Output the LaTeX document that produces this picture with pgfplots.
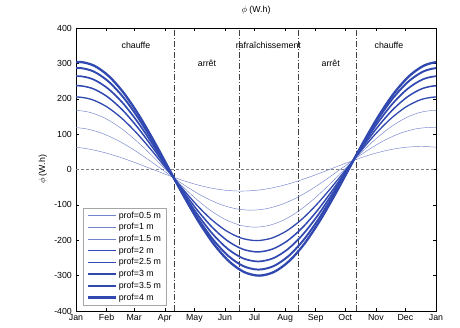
\documentclass[border=0pt]{standalone}
\usepackage{pgfplots}
\pgfplotsset{compat=1.18}
\usepackage{fontspec}
\setmainfont{Liberation Sans}
\definecolor{cblue}{RGB}{48,72,175}
\definecolor{lblue}{RGB}{115,130,205}
\newcommand{\fs}{\fontsize{8.8}{10.5}\selectfont}
\begin{document}
\fs
\begin{tikzpicture}
\path[use as bounding box] (-76pt,-17pt) rectangle (384pt,311pt);
\begin{axis}[
  at={(0pt,0pt)}, anchor=south west,
  scale only axis, width=360pt, height=283pt,
  xmin=0, xmax=365, ymin=-400, ymax=400,
  xtick={0,31,59,90,120,151,181,212,243,273,304,334,365},
  xticklabels={Jan,Feb,Mar,Apr,May,Jun,Jul,Aug,Sep,Oct,Nov,Dec,Jan},
  ytick={-400,-300,...,400},
  tick align=inside, tick pos=both,
  major tick length=3pt,
  tick style={black, line width=0.4pt},
  axis line style={black, line width=0.5pt},
  /pgf/number format/assume math mode=true,
  ticklabel style={font=\fs},
  yticklabel style={xshift=-1pt},
  title={$\phi$ (W.h)},
  title style={at={(0.5,1)}, anchor=south, yshift=5pt, font=\fs},
  ylabel={$\phi$ (W.h)},
  ylabel style={at={(axis description cs:-0.092,0.5)}, anchor=center, font=\fs},
  clip=true,
  legend style={at={(axis description cs:0.02,0.019)}, anchor=south west, draw=gray!70, line width=0.5pt, font=\fs, inner xsep=3pt, inner ysep=2pt, row sep=0pt, fill=white},
  legend cell align=left,
  legend image code/.code={\draw[#1] (0pt,0pt) -- (28pt,0pt);},
]
% reference lines
\addplot[forget plot, gray, line width=0.4pt, dash pattern=on 3pt off 2pt] coordinates {(0,0) (365,0)};
\addplot[forget plot, black!75, line width=0.4pt, dash pattern=on 6pt off 2pt on 1pt off 2pt] coordinates {(100,-400) (100,400)};
\addplot[forget plot, black!75, line width=0.4pt, dash pattern=on 6pt off 2pt on 1pt off 2pt] coordinates {(165,-400) (165,400)};
\addplot[forget plot, black!75, line width=0.4pt, dash pattern=on 6pt off 2pt on 1pt off 2pt] coordinates {(225,-400) (225,400)};
\addplot[forget plot, black!75, line width=0.4pt, dash pattern=on 6pt off 2pt on 1pt off 2pt] coordinates {(284,-400) (284,400)};
% 0.5 m
\addplot[lblue, line width=0.45pt, smooth] coordinates {
(-30.21,62.9) (-15,65) (0.21,62.9) (15.42,56.6) (30.63,46.5) (45.83,33.5) (61.04,18.3) (76.25,2) (91.46,-14.3) (106.67,-29.5) (121.88,-42.5) (137.08,-52.6) (152.29,-58.9) (167.5,-61) (182.71,-58.9) (197.92,-52.6) (213.13,-42.5) (228.33,-29.5) (243.54,-14.3) (258.75,2) (273.96,18.3) (289.17,33.5) (304.38,46.5) (319.58,56.6) (334.79,62.9) (350,65) (365.21,62.9) (380.42,56.6)};
\addlegendentry{prof=0.5 m}
% 1 m
\addplot[lblue, line width=0.45pt, smooth] coordinates {
(-20.21,115.0) (-5,119) (10.21,115.0) (25.42,103.3) (40.63,84.7) (55.83,60.5) (71.04,32.3) (86.25,2) (101.46,-28.3) (116.67,-56.5) (131.88,-80.7) (147.08,-99.3) (162.29,-111.0) (177.5,-115) (192.71,-111.0) (207.92,-99.3) (223.13,-80.7) (238.33,-56.5) (253.54,-28.3) (268.75,2) (283.96,32.3) (299.17,60.5) (314.38,84.7) (329.58,103.3) (344.79,115.0) (360,119) (375.21,115.0) (390.42,103.3)};
\addlegendentry{prof=1 m}
% 1.5 m
\addplot[lblue, line width=0.45pt, smooth] coordinates {
(-16.21,161.4) (-1,167) (14.21,161.4) (29.42,144.9) (44.63,118.7) (59.83,84.5) (75.04,44.7) (90.25,2) (105.46,-40.7) (120.67,-80.5) (135.88,-114.7) (151.08,-140.9) (166.29,-157.4) (181.5,-163) (196.71,-157.4) (211.92,-140.9) (227.13,-114.7) (242.33,-80.5) (257.54,-40.7) (272.75,2) (287.96,44.7) (303.17,84.5) (318.38,118.7) (333.58,144.9) (348.79,161.4) (364,167) (379.21,161.4) (394.42,144.9)};
\addlegendentry{prof=1.5 m}
% 2 m
\addplot[cblue, line width=1.3pt, smooth] coordinates {
(-14.71,198.1) (0.5,205) (15.71,198.1) (30.92,177.8) (46.13,145.5) (61.33,103.5) (76.54,54.5) (91.75,2) (106.96,-50.5) (122.17,-99.5) (137.38,-141.5) (152.58,-173.8) (167.79,-194.1) (183,-201) (198.21,-194.1) (213.42,-173.8) (228.63,-141.5) (243.83,-99.5) (259.04,-50.5) (274.25,2) (289.46,54.5) (304.67,103.5) (319.88,145.5) (335.08,177.8) (350.29,198.1) (365.5,205) (380.71,198.1) (395.92,177.8)};
\addlegendentry{prof=2 m}
% 2.5 m
\addplot[cblue, line width=1.5pt, smooth] coordinates {
(-13.71,229.0) (1.5,237) (16.71,229.0) (31.92,205.5) (47.13,168.2) (62.33,119.5) (77.54,62.8) (92.75,2) (107.96,-58.8) (123.17,-115.5) (138.38,-164.2) (153.58,-201.5) (168.79,-225.0) (184,-233) (199.21,-225.0) (214.42,-201.5) (229.63,-164.2) (244.83,-115.5) (260.04,-58.8) (275.25,2) (290.46,62.8) (305.67,119.5) (320.88,168.2) (336.08,205.5) (351.29,229.0) (366.5,237) (381.71,229.0) (396.92,205.5)};
\addlegendentry{prof=2.5 m}
% 3 m
\addplot[cblue, line width=1.7pt, smooth] coordinates {
(-13.21,255.1) (2,264) (17.21,255.1) (32.42,228.9) (47.63,187.3) (62.83,133) (78.04,69.8) (93.25,2) (108.46,-65.8) (123.67,-129) (138.88,-183.3) (154.08,-224.9) (169.29,-251.1) (184.5,-260) (199.71,-251.1) (214.92,-224.9) (230.13,-183.3) (245.33,-129) (260.54,-65.8) (275.75,2) (290.96,69.8) (306.17,133) (321.38,187.3) (336.58,228.9) (351.79,255.1) (367,264) (382.21,255.1) (397.42,228.9)};
\addlegendentry{prof=3 m}
% 3.5 m
\addplot[cblue, line width=1.95pt, smooth] coordinates {
(-12.71,277.3) (2.5,287) (17.71,277.3) (32.92,248.8) (48.13,203.5) (63.33,144.5) (78.54,75.8) (93.75,2) (108.96,-71.8) (124.17,-140.5) (139.38,-199.5) (154.58,-244.8) (169.79,-273.3) (185,-283) (200.21,-273.3) (215.42,-244.8) (230.63,-199.5) (245.83,-140.5) (261.04,-71.8) (276.25,2) (291.46,75.8) (306.67,144.5) (321.88,203.5) (337.08,248.8) (352.29,277.3) (367.5,287) (382.71,277.3) (397.92,248.8)};
\addlegendentry{prof=3.5 m}
% 4 m
\addplot[cblue, line width=2.3pt, smooth] coordinates {
(-12.21,293.7) (3,304) (18.21,293.7) (33.42,263.5) (48.63,215.5) (63.83,153) (79.04,80.2) (94.25,2) (109.46,-76.2) (124.67,-149) (139.88,-211.5) (155.08,-259.5) (170.29,-289.7) (185.5,-300) (200.71,-289.7) (215.92,-259.5) (231.13,-211.5) (246.33,-149) (261.54,-76.2) (276.75,2) (291.96,80.2) (307.17,153) (322.38,215.5) (337.58,263.5) (352.79,293.7) (368,304) (383.21,293.7) (398.42,263.5)};
\addlegendentry{prof=4 m}
% labels
\node[font=\fs] at (axis cs:60.8,350) {chauffe};
\node[font=\fs] at (axis cs:132.8,300) {arrêt};
\node[font=\fs] at (axis cs:195,350) {rafraîchissement};
\node[font=\fs] at (axis cs:258.2,300) {arrêt};
\node[font=\fs] at (axis cs:317.3,350) {chauffe};
\end{axis}
\end{tikzpicture}
\end{document}
